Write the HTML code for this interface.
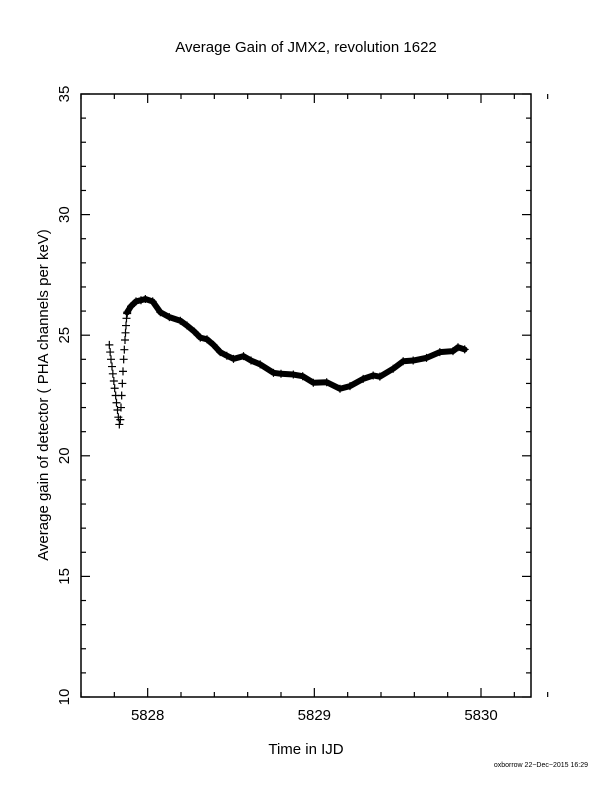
<!DOCTYPE html>
<html><head><meta charset="utf-8"><style>
html,body{margin:0;padding:0;background:#fff;}
svg{display:block;font-family:"Liberation Sans",sans-serif;}
</style></head><body>
<svg id="chart" width="612" height="792" viewBox="0 0 612 792">
<text x="306" y="52" text-anchor="middle" font-size="15">Average Gain of JMX2, revolution 1622</text>
<rect x="81" y="94" width="450" height="603" fill="none" stroke="#000" stroke-width="1.5"/>
<g id="axes"></g>
<g id="series"></g>
<text x="306" y="754" text-anchor="middle" font-size="15">Time in IJD</text>
<text transform="translate(48,395) rotate(-90)" text-anchor="middle" font-size="15">Average gain of detector ( PHA channels per keV)</text>
<text x="588" y="767" text-anchor="end" font-size="7">oxborrow 22−Dec−2015 16:29</text>
</svg>
<script>
const xTicks = [5828, 5829, 5830];
const yTicks = [10, 15, 20, 25, 30, 35];
const downT = [5827.770,5827.775,5827.780,5827.786,5827.791,5827.797,5827.802,5827.808,5827.813,5827.819,5827.824,5827.830];
const downV = [24.6,24.3,24.0,23.7,23.4,23.1,22.8,22.5,22.2,21.9,21.6,21.3];
const upT = [5827.836,5827.840,5827.844,5827.848,5827.852,5827.856,5827.860,5827.864,5827.867,5827.870,5827.873,5827.877];
const upV = [21.5,22.0,22.5,23.0,23.5,24.0,24.4,24.8,25.1,25.4,25.7,25.9];
const mainT = [5827.877,5827.900,5827.930,5827.960,5827.986,5828.030,5828.076,5828.130,5828.196,5828.236,5828.280,5828.316,5828.356,5828.395,5828.435,5828.475,5828.515,5828.575,5828.620,5828.675,5828.755,5828.800,5828.874,5828.930,5828.994,5829.074,5829.154,5829.214,5829.293,5829.353,5829.393,5829.473,5829.533,5829.593,5829.673,5829.753,5829.832,5829.862,5829.902];
const mainV = [25.95,26.2,26.4,26.45,26.5,26.4,25.95,25.75,25.6,25.4,25.15,24.9,24.83,24.6,24.3,24.15,24.02,24.13,23.95,23.79,23.44,23.4,23.37,23.3,23.03,23.05,22.78,22.89,23.19,23.33,23.28,23.61,23.92,23.95,24.06,24.3,24.34,24.5,24.41];
const X0=81,X1=531,T0=5827.6,T1=5830.3,Y0=697,Y1=94,V0=10,V1=35;
const xs=t=>X0+(t-T0)/(T1-T0)*(X1-X0);
const ys=v=>Y0-(v-V0)/(V1-V0)*(Y0-Y1);
const NS="http://www.w3.org/2000/svg";
function mk(tag,attrs,parent){const e=document.createElementNS(NS,tag);for(const k in attrs)e.setAttribute(k,attrs[k]);parent.appendChild(e);return e;}
const ax=document.getElementById('axes');
for(let i=0;i<=14;i++){const t=5827.6+i*0.2;const x=xs(t);const major=xTicks.some(v=>Math.abs(v-t)<1e-6);const L=major?9:5;
 const a=mk('line',{x1:x,x2:x,y1:Y0,y2:Y0-L,stroke:'#000','stroke-width':1.2},ax);
 
 
 const b=mk('line',{x1:x,x2:x,y1:Y1,y2:Y1+L,stroke:'#000','stroke-width':1.2},ax);
 
 }
xTicks.forEach(t=>{const tx=mk('text',{x:xs(t),y:720,'text-anchor':'middle','font-size':15},ax);tx.textContent=t;
 
 });
for(let v=10;v<=35;v++){const y=ys(v);const L=(v%5===0)?9:5;
 const a=mk('line',{x1:X0,x2:X0+L,y1:y,y2:y,stroke:'#000','stroke-width':1.2},ax);
 
 
 const b=mk('line',{x1:X1,x2:X1-L,y1:y,y2:y,stroke:'#000','stroke-width':1.2},ax);
 
 }
yTicks.forEach(v=>{const tx=mk('text',{transform:`translate(69,${ys(v)}) rotate(-90)`,'text-anchor':'middle','font-size':15},ax);tx.textContent=v;
 
 });
const sg=document.getElementById('series');
const pl=mk('polyline',{points:mainT.map((t,i)=>xs(t)+','+ys(mainV[i])).join(' '),fill:'none',stroke:'#000','stroke-width':6,'stroke-linejoin':'round','stroke-linecap':'round'},sg);


function plus(t,v){const x=xs(t),y=ys(v);
 const p=mk('path',{d:`M${x-4},${y}H${x+4}M${x},${y-4}V${y+4}`,stroke:'#000','stroke-width':1.2},sg);
 
 }
downT.forEach((t,i)=>plus(t,downV[i]));
upT.forEach((t,i)=>plus(t,upV[i]));
mainT.forEach((t,i)=>plus(t,mainV[i]));
</script>
</body></html>
